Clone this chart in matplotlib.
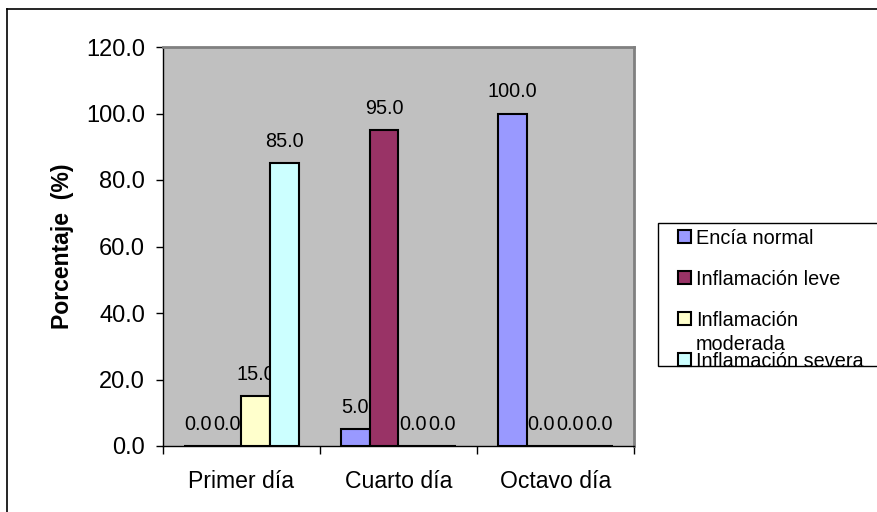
import matplotlib.pyplot as plt
import numpy as np
from matplotlib.patches import Rectangle
from matplotlib.lines import Line2D

plt.rcParams['font.family'] = ['Liberation Sans', 'DejaVu Sans']

dias = ["Primer día", "Cuarto día", "Octavo día"]
series = ["Encía normal", "Inflamación leve", "Inflamación\nmoderada", "Inflamación severa"]
encia_normal = [0.0, 5.0, 100.0]
inflamacion_leve = [0.0, 95.0, 0.0]
inflamacion_moderada = [15.0, 0.0, 0.0]
inflamacion_severa = [85.0, 0.0, 0.0]
colores = ["#9999FF", "#993366", "#FFFFCC", "#CCFFFF"]

valores = [encia_normal, inflamacion_leve, inflamacion_moderada, inflamacion_severa]

fig = plt.figure(figsize=(8.78, 5.12), dpi=100)
ax = fig.add_axes([163 / 878, 1 - 446 / 512, 471 / 878, 399 / 512])
ax.set_facecolor("#C0C0C0")

x = np.arange(len(dias))
w = 0.183
for i, (vals, col) in enumerate(zip(valores, colores)):
    pos = x + (i - 1.5) * w
    bars = ax.bar(pos, vals, width=w, color=col, edgecolor="black", linewidth=1.5, zorder=3)
    ax.bar_label(bars, labels=["%.1f" % v for v in vals], padding=9, fontsize=14.3)

ax.set_xlim(-0.5, 2.5)
ax.set_ylim(0, 120)
ax.set_yticks(np.arange(0, 121, 20))
ax.set_yticklabels(["%.1f" % t for t in np.arange(0, 121, 20)], fontsize=17)
ax.tick_params(axis="y", length=5, pad=8, width=1)

# categorias centradas, marcas entre categorias
ax.set_xticks([-0.5, 0.5, 1.5, 2.5])
ax.set_xticklabels([])
ax.tick_params(axis="x", length=6, width=1)
ax.set_xticks(x, minor=True)
ax.set_xticklabels(dias, minor=True, fontsize=16.6)
ax.tick_params(axis="x", which="minor", length=0, pad=17)

for s in ["top", "right"]:
    ax.spines[s].set_color("#808080")
    ax.spines[s].set_linewidth(2)
for s in ["left", "bottom"]:
    ax.spines[s].set_color("black")
    ax.spines[s].set_linewidth(1)

ax.set_ylabel("Porcentaje  (%)", fontsize=16.6, fontweight="bold")
ax.yaxis.set_label_coords(-0.19, 0.5)

# marco exterior
fig.add_artist(Line2D([7 / 878, 1], [1 - 9 / 512, 1 - 9 / 512], color="black", lw=1.2))
fig.add_artist(Line2D([7 / 878, 7 / 878], [0, 1 - 9 / 512], color="black", lw=1.2))

# leyenda
lx0, ly0 = 658 / 878, 1 - 366 / 512
frame = Rectangle((lx0, ly0), 0.3, (366 - 223) / 512, transform=fig.transFigure,
                  facecolor="white", edgecolor="black", lw=1)
fig.add_artist(frame)
tops = [230, 271, 312, 353]
for nombre, col, t in zip(series, colores, tops):
    fig.add_artist(Rectangle((678 / 878, 1 - (t + 13) / 512), 13 / 878, 13 / 512,
                             transform=fig.transFigure, facecolor=col,
                             edgecolor="black", lw=1.5))
    txt = fig.text(696 / 878, 1 - (t - 1) / 512, nombre, fontsize=14.3, va="top",
                   ha="left", linespacing=1.3)
    txt.set_clip_path(frame)

fig.savefig("out.png", dpi=100)
